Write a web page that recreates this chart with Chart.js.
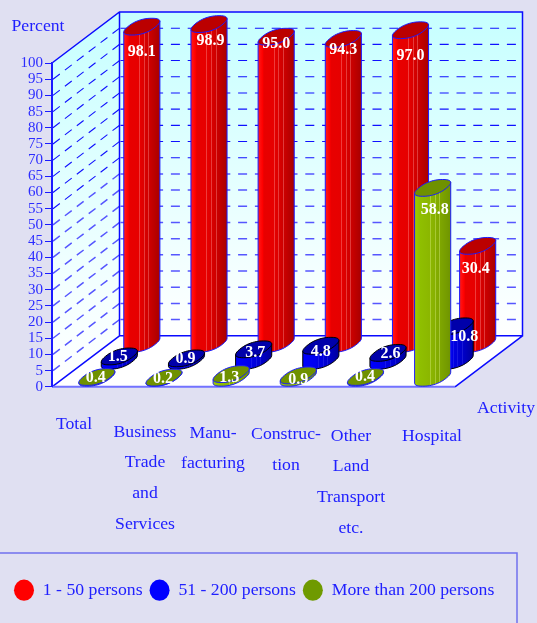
<!DOCTYPE html>
<html>
<head>
<meta charset="utf-8">
<style>html,body{margin:0;padding:0;background:#e0e0f2}canvas{display:block}</style>
<script src="https://cdn.jsdelivr.net/npm/chart.js@4"></script>
</head>
<body>
<canvas id="c" width="537" height="623"></canvas>
<script>
const categories = [['Total'], ['Business','Trade','and','Services'], ['Manu-','facturing'], ['Construc-','tion'], ['Other','Land','Transport','etc.'], ['Hospital']];
const small = [98.1, 98.9, 95.0, 94.3, 97.0, 30.4];
const medium = [1.5, 0.9, 3.7, 4.8, 2.6, 10.8];
const large = [0.4, 0.2, 1.3, 0.9, 0.4, 58.8];
const seriesNames = ['1 - 50 persons', '51 - 200 persons', 'More than 200 persons'];
const seriesColors = ['#ff0000', '#0000ff', '#6f9a00'];

// layout only
const FONT = '"Liberation Serif", "Times New Roman", serif';
const TEXT = '#2020ff';
const DX = 67.5, DY = 51, ROWS = 3;
const rowOf = [2, 1, 0];
const catLabelX = [74, 145, 213, 286, 351, 432];
const catLabelY = [424, 432, 433, 434.5, 436, 436.5];
const LINE = 30.7;
const labelDy = [[25, 16.6, 7, 11, 26, 23], [0, 0, 4, 5.7, 1, 11], [0.5, 1, 4, 4, 0, 22]];
const labelDx = [[0, 1.5, 0, 0, 0, -2], [-1.5, -1, 1.5, 0, 2.5, 9], [-1, -1, -2, 0, -0.5, 2]];
const looks = [
  {top:'#bb0000', edge:'#1a1aff', stops:[[0,'#ff1a1a'],[0.12,'#ff0000'],[0.16,'#e80000'],[0.45,'#e60000'],[0.75,'#c80000'],[1,'#a80000']], stripe:'rgba(255,170,170,0.35)'},
  {top:'#0000aa', edge:'#000000', stops:[[0,'#0000ff'],[0.35,'#0000ee'],[0.7,'#0000cc'],[1,'#00009c']], stripe:'rgba(120,120,255,0.2)'},
  {top:'#6f9100', edge:'#1a1aff', stops:[[0,'#a0cc00'],[0.15,'#8fbf00'],[0.5,'#8ab400'],[1,'#6f9400']], stripe:'rgba(220,240,130,0.4)'}
];

function superEllipse(cx, cy) {
  const a = 14, bx = 10, by = 8.4, p = 0.85, pts = [];
  for (let i = 0; i < 48; i++) {
    const t = i / 48 * 2 * Math.PI;
    const c = Math.sign(Math.cos(t)) * Math.pow(Math.abs(Math.cos(t)), p);
    const s = Math.sign(Math.sin(t)) * Math.pow(Math.abs(Math.sin(t)), p);
    pts.push([cx + a * c + bx * s, cy - by * s]);
  }
  return pts;
}
function trace(ctx, pts) {
  pts.forEach((q, i) => i ? ctx.lineTo(q[0], q[1]) : ctx.moveTo(q[0], q[1]));
}
function drawCylinder(ctx, cx, yTop, yBase, look) {
  const top = superEllipse(cx, yTop), bot = superEllipse(cx, yBase);
  let iMin = 0, iMax = 0;
  top.forEach((q, i) => { if (q[0] < top[iMin][0]) iMin = i; if (q[0] > top[iMax][0]) iMax = i; });
  const body = [];
  let i = iMin;
  while (i !== iMax) { body.push(bot[i]); i = (i + 1) % 48; }
  body.push(bot[iMax]);
  const path = () => { ctx.beginPath(); trace(ctx, body); ctx.lineTo(top[iMax][0], top[iMax][1]); ctx.lineTo(top[iMin][0], top[iMin][1]); ctx.closePath(); };
  const x0 = top[iMin][0], x1 = top[iMax][0];
  ctx.save();
  path();
  const g = ctx.createLinearGradient(x0, 0, x1, 0);
  look.stops.forEach(s => g.addColorStop(s[0], s[1]));
  ctx.fillStyle = g;
  ctx.fill();
  ctx.clip();
  ctx.strokeStyle = look.stripe;
  ctx.lineWidth = 1;
  [0.43, 0.56, 0.68].forEach(f => {
    const x = Math.round(x0 + (x1 - x0) * f) + 0.5;
    ctx.beginPath(); ctx.moveTo(x, yTop - 20); ctx.lineTo(x, yBase + 20); ctx.stroke();
  });
  ctx.restore();
  ctx.lineWidth = 1;
  ctx.strokeStyle = look.edge;
  path(); ctx.stroke();
  ctx.beginPath(); trace(ctx, top); ctx.closePath();
  ctx.fillStyle = look.top; ctx.fill(); ctx.stroke();
}

const scene3d = {
  id: 'scene3d',
  beforeDraw(chart) {
    const {ctx, scales: {x, y}} = chart;
    const L = x.left, R = x.right, T = y.top, B = y.bottom;
    ctx.save();
    const g = ctx.createLinearGradient(0, T - DY, 0, B - DY);
    g.addColorStop(0, '#c6ffff'); g.addColorStop(0.62, '#eaffff'); g.addColorStop(1, '#ffffff');
    ctx.fillStyle = g;
    ctx.fillRect(L + DX, T - DY, R - L, B - T);
    const g2 = ctx.createLinearGradient(0, T - DY, 0, B);
    g2.addColorStop(0, '#c6ffff'); g2.addColorStop(0.75, '#f4ffff'); g2.addColorStop(1, '#ffffff');
    ctx.fillStyle = g2;
    ctx.beginPath(); ctx.moveTo(L, T); ctx.lineTo(L + DX, T - DY); ctx.lineTo(L + DX, B - DY); ctx.lineTo(L, B); ctx.closePath(); ctx.fill();
    ctx.fillStyle = '#ffffff';
    ctx.beginPath(); ctx.moveTo(L, B); ctx.lineTo(L + DX, B - DY); ctx.lineTo(R + DX, B - DY); ctx.lineTo(R, B); ctx.closePath(); ctx.fill();
    y.ticks.forEach(t => {
      if (t.value === 0 || t.value === 100) return;
      const py = y.getPixelForValue(t.value);
      ctx.strokeStyle = t.value >= 55 ? '#1010ff' : '#5656ff';
      ctx.lineWidth = t.value >= 55 ? 1.1 : 1.5;
      ctx.setLineDash([8.6, 6.4]);
      ctx.beginPath(); ctx.moveTo(L + 1, py); ctx.lineTo(L + DX, py - DY); ctx.stroke();
      ctx.setLineDash([9, 7.8]);
      ctx.beginPath(); ctx.moveTo(L + DX + 1, py - DY); ctx.lineTo(R + DX, py - DY); ctx.stroke();
    });
    ctx.setLineDash([]);
    ctx.strokeStyle = '#0a0aff';
    ctx.lineWidth = 1.5;
    ctx.beginPath();
    ctx.moveTo(L, T); ctx.lineTo(L + DX, T - DY); ctx.lineTo(R + DX, T - DY); ctx.lineTo(R + DX, B - DY); ctx.lineTo(L + DX, B - DY); ctx.lineTo(L + DX, T - DY);
    ctx.moveTo(L, B); ctx.lineTo(L + DX, B - DY);
    ctx.moveTo(R, B); ctx.lineTo(R + DX, B - DY);
    ctx.stroke();
    ctx.strokeStyle = '#7272ff';
    ctx.lineWidth = 2;
    ctx.beginPath(); ctx.moveTo(L, B); ctx.lineTo(R, B); ctx.stroke();
    ctx.strokeStyle = '#7070ee';
    ctx.lineWidth = 1.5;
    ctx.beginPath(); ctx.moveTo(0, 553); ctx.lineTo(517, 553); ctx.lineTo(517, 623); ctx.stroke();
    ctx.restore();
  },
  beforeDatasetDraw(chart, args) {
    const {ctx} = chart, i = args.index, meta = args.meta;
    const off = rowOf[i] + 0.5;
    const ox = DX * off / ROWS, oy = DY * off / ROWS;
    ctx.save();
    meta.data.forEach((bar, j) => {
      const cx = bar.x + ox, yTop = bar.y - oy, yBase = bar.base - oy;
      drawCylinder(ctx, cx, yTop, yBase, looks[i]);
      ctx.fillStyle = '#ffffff';
      ctx.font = 'bold 16px ' + FONT;
      ctx.textAlign = 'center';
      ctx.textBaseline = 'middle';
      const v = chart.data.datasets[i].data[j];
      ctx.fillText(v.toFixed(1), cx + labelDx[i][j], yTop + labelDy[i][j]);
    });
    ctx.restore();
    return false;
  },
  afterDraw(chart) {
    const {ctx} = chart;
    ctx.save();
    ctx.fillStyle = TEXT;
    ctx.font = '17.7px ' + FONT;
    ctx.textAlign = 'center';
    ctx.textBaseline = 'middle';
    categories.forEach((lines, i) => {
      lines.forEach((s, k) => ctx.fillText(s, catLabelX[i], catLabelY[i] + k * LINE));
    });
    ctx.fillText('Percent', 38, 26);
    ctx.fillText('Activity', 506, 408);
    ctx.restore();
  }
};

new Chart(document.getElementById('c'), {
  type: 'bar',
  data: {
    labels: categories,
    datasets: [
      {label: seriesNames[0], data: small, backgroundColor: seriesColors[0], grouped: false, order: 3},
      {label: seriesNames[1], data: medium, backgroundColor: seriesColors[1], grouped: false, order: 2},
      {label: seriesNames[2], data: large, backgroundColor: seriesColors[2], grouped: false, order: 1}
    ]
  },
  options: {
    responsive: false,
    animation: false,
    layout: {padding: {left: 7, top: 63, right: 0, bottom: 14}},
    plugins: {
      tooltip: {enabled: false},
      title: {display: false},
      legend: {
        display: true,
        position: 'bottom',
        align: 'start',
        onClick: null,
        labels: {
          usePointStyle: true, pointStyle: 'circle', pointStyleWidth: 20, boxHeight: 15,
          padding: 7, color: TEXT,
          font: {family: FONT, size: 17.7},
          sort: (a, b) => a.datasetIndex - b.datasetIndex
        }
      }
    },
    scales: {
      x: {
        type: 'category',
        afterFit: s => { s.height = 187.5; },
        ticks: {display: false},
        grid: {display: false},
        border: {display: false}
      },
      y: {
        min: 0, max: 100,
        afterFit: s => { s.width = 45; },
        ticks: {stepSize: 5, autoSkip: false, padding: 2, color: '#2c2cff', font: {family: FONT, size: 15}},
        grid: {drawOnChartArea: false, drawTicks: true, tickLength: 7, tickColor: '#1a1aff', lineWidth: 1},
        border: {display: true, color: '#1a1aff', width: 2}
      },
      pad: {
        position: 'right', display: true,
        afterFit: s => { s.width = 82; },
        ticks: {display: false},
        grid: {display: false},
        border: {display: false}
      }
    }
  },
  plugins: [scene3d]
});
</script>
</body>
</html>
